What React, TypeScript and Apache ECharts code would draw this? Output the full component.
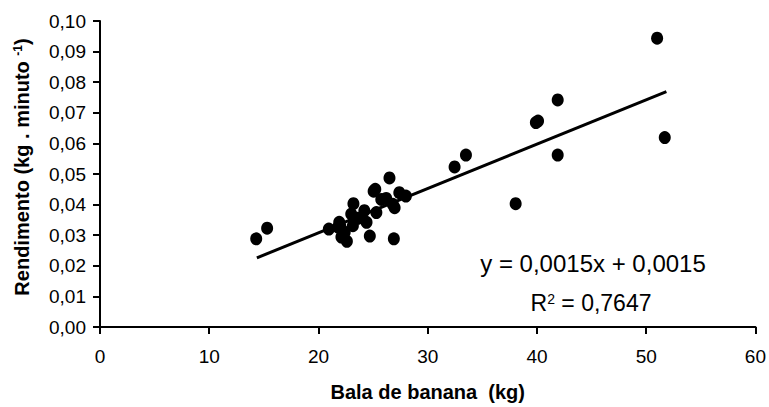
import React, { useEffect, useRef } from "react";
import * as echarts from "echarts";

const xMin = 0;
const xMax = 60;
const xStep = 10;
const yMin = 0;
const yMax = 0.1;
const yStep = 0.01;

const xTitle = "Bala de banana  (kg)";
const yTitleMain = "Rendimento (kg . minuto ";
const yTitleSup = "-1";
const yTitleEnd = ")";
const equationText = "y = 0,0015x + 0,0015";
const r2Value = "0,7647";

const points: [number, number][] = [
  [14.3, 0.0288],
  [15.3, 0.0323],
  [20.95, 0.032],
  [21.8, 0.0326],
  [21.9, 0.0342],
  [22.0, 0.033],
  [22.1, 0.0294],
  [22.4, 0.031],
  [22.6, 0.028],
  [23.0, 0.0369],
  [23.15, 0.0331],
  [23.2, 0.0403],
  [23.6, 0.0355],
  [24.2, 0.038],
  [24.4, 0.0342],
  [24.7, 0.0297],
  [25.05, 0.0444],
  [25.2, 0.045],
  [25.3, 0.0374],
  [25.75, 0.0417],
  [26.2, 0.042],
  [26.5, 0.0487],
  [26.8, 0.0401],
  [26.97, 0.039],
  [26.9, 0.0288],
  [27.4, 0.0439],
  [28.0, 0.0428],
  [32.46, 0.0523],
  [33.5, 0.0562],
  [38.05, 0.0403],
  [39.9, 0.0668],
  [40.1, 0.0673],
  [41.9, 0.0742],
  [41.9, 0.0562],
  [51.0, 0.0944],
  [51.7, 0.0619],
];

const trendLine: [number, number][] = [
  [14.36, 0.0226],
  [51.85, 0.0769],
];

const FONT = "'Liberation Sans', Arial, sans-serif";

export default function App() {
  const ref = useRef<HTMLDivElement>(null);

  useEffect(() => {
    if (!ref.current) return;
    const chart = echarts.init(ref.current, undefined, { renderer: "svg" });
    chart.setOption({
      animation: false,
      backgroundColor: "#ffffff",
      grid: { left: 100, right: 13, top: 21, bottom: 76, containLabel: false },
      xAxis: {
        type: "value",
        min: xMin,
        max: xMax,
        interval: xStep,
        name: xTitle,
        nameLocation: "middle",
        nameGap: 55,
        nameTextStyle: { fontFamily: FONT, fontSize: 20, fontWeight: "bold", color: "#000" },
        axisLine: { show: true, onZero: false, lineStyle: { color: "#000", width: 2 } },
        axisTick: { show: true, inside: false, length: 7, lineStyle: { color: "#000", width: 2 } },
        axisLabel: { fontFamily: FONT, fontSize: 19, color: "#000", margin: 20 },
        splitLine: { show: false },
      },
      yAxis: {
        type: "value",
        min: yMin,
        max: yMax,
        interval: yStep,
        axisLine: { show: true, onZero: false, lineStyle: { color: "#000", width: 2 } },
        axisTick: { show: true, inside: false, length: 7, lineStyle: { color: "#000", width: 2 } },
        axisLabel: {
          fontFamily: FONT,
          fontSize: 19,
          color: "#000",
          margin: 14,
          formatter: (v: number) => v.toFixed(2).replace(".", ","),
        },
        splitLine: { show: false },
      },
      series: [
        {
          type: "scatter",
          data: points,
          symbol: "circle",
          symbolSize: [12, 13],
          itemStyle: { color: "#000", opacity: 1 },
          z: 3,
        },
        {
          type: "line",
          data: trendLine,
          symbol: "none",
          lineStyle: { color: "#000", width: 3 },
          z: 2,
        },
      ],
      graphic: [
        {
          type: "text",
          x: 22,
          y: 167,
          rotation: Math.PI / 2,
          style: {
            text: `{n|${yTitleMain}}{s|${yTitleSup}}{n|${yTitleEnd}}`,
            align: "center",
            verticalAlign: "middle",
            rich: {
              n: { fontFamily: FONT, fontSize: 20, fontWeight: "bold", fill: "#000", color: "#000" },
              s: { fontFamily: FONT, fontSize: 12, fontWeight: "bold", fill: "#000", color: "#000", verticalAlign: "top" },
            },
          },
        },
        {
          type: "text",
          x: 593,
          y: 263,
          style: {
            text: equationText,
            fontFamily: FONT,
            fontSize: 24,
            fill: "#000",
            align: "center",
            verticalAlign: "middle",
          },
        },
        {
          type: "text",
          x: 591,
          y: 303,
          style: {
            text: `{n|R}{s|2}{n| = ${r2Value}}`,
            align: "center",
            verticalAlign: "middle",
            rich: {
              n: { fontFamily: FONT, fontSize: 23, fill: "#000", color: "#000" },
              s: { fontFamily: FONT, fontSize: 14, fill: "#000", color: "#000", verticalAlign: "top" },
            },
          },
        },
      ],
    });
    return () => chart.dispose();
  }, []);

  return (
    <div
      ref={ref}
      style={{ position: "fixed", left: 0, top: 0, width: 769, height: 407, background: "#fff" }}
    />
  );
}
